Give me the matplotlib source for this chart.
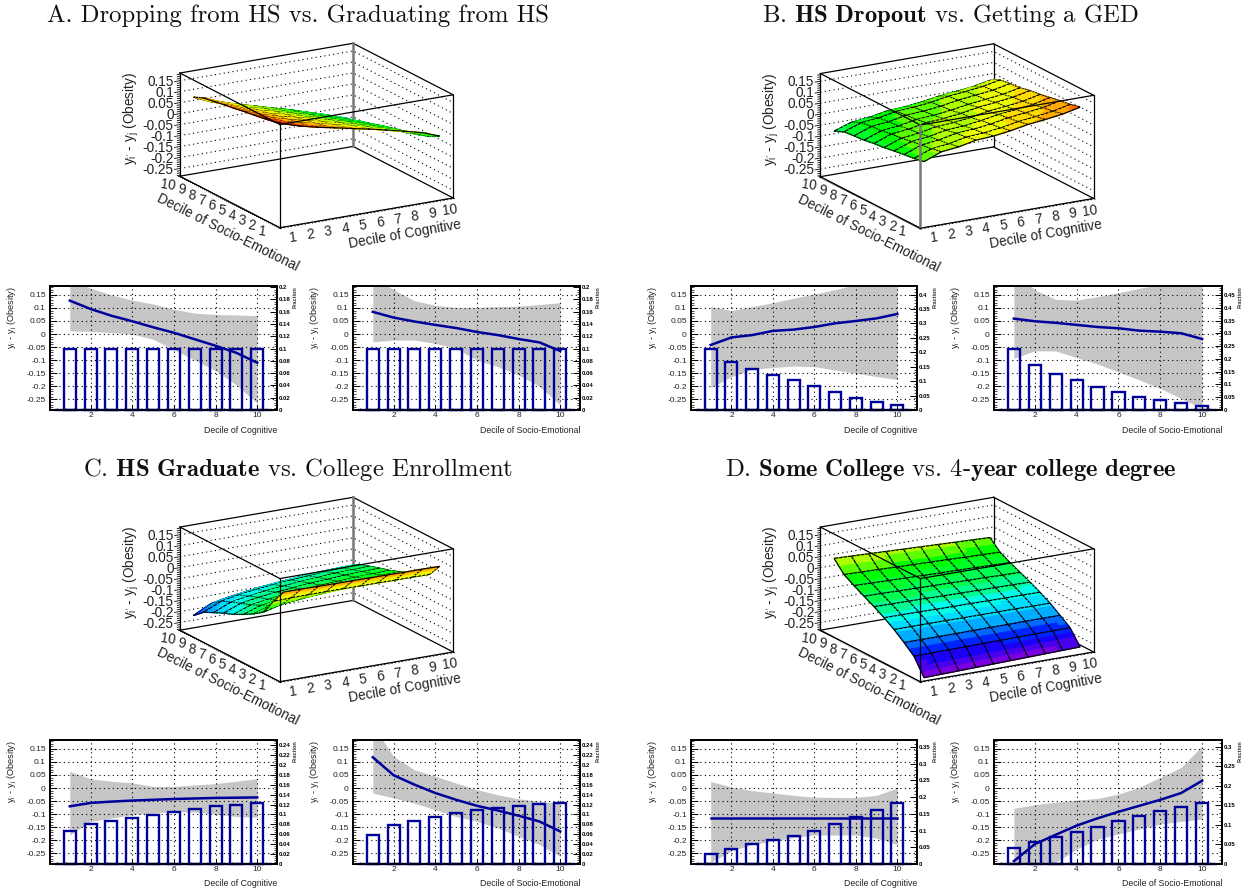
#!/usr/bin/env python3
"""Obesity treatment effects by decile: four surface panels with their marginal plots."""

import numpy as np
import matplotlib
matplotlib.use("Agg")
import matplotlib.pyplot as plt
from matplotlib.colors import LinearSegmentedColormap, BoundaryNorm
from matplotlib.ticker import MultipleLocator
from mpl_toolkits.mplot3d import proj3d
from mpl_toolkits.mplot3d.art3d import Poly3DCollection

plt.rcParams["font.family"] = "Liberation Sans"
plt.rcParams["mathtext.fontset"] = "custom"
plt.rcParams["mathtext.rm"] = "Liberation Sans"
plt.rcParams["mathtext.it"] = "Liberation Sans:italic"
plt.rcParams["mathtext.bf"] = "Liberation Sans:bold"
plt.rcParams["mathtext.default"] = "regular"

# =============================================================================
# Data
# =============================================================================

deciles = [1, 2, 3, 4, 5, 6, 7, 8, 9, 10]
z_ticks = [0.15, 0.1, 0.05, 0, -0.05, -0.1, -0.15, -0.2, -0.25]
z_labels = ["0.15", "0.1", "0.05", "0", "-0.05", "-0.1", "-0.15", "-0.2", "-0.25"]
even_ticks = [2, 4, 6, 8, 10]

titles = [
    "A. Dropping from HS vs. Graduating from HS",
    r"B. $\mathbf{HS\ Dropout}$ vs. Getting a GED",
    r"C. $\mathbf{HS\ Graduate}$ vs. College Enrollment",
    r"D. $\mathbf{Some\ College}$ vs. $\mathbf{4\text{-}year\ college\ degree}$",
]

# surfaces: rows are socio-emotional deciles 1..10, columns are cognitive deciles 1..10
surface_a = [
    [.170, .146, .127, .111, .094, .078, .060, .041, .021, -.008],
    [.157, .131, .111, .094, .076, .059, .040, .020, -.002, -.032],
    [.148, .121, .100, .083, .064, .046, .026, .005, -.017, -.049],
    [.140, .113, .091, .073, .053, .035, .014, -.007, -.030, -.063],
    [.133, .105, .082, .064, .044, .025, .003, -.018, -.042, -.076],
    [.124, .095, .072, .053, .031, .012, -.010, -.033, -.057, -.093],
    [.117, .087, .063, .043, .022, .002, -.021, -.044, -.070, -.106],
    [.108, .077, .052, .032, .009, -.011, -.035, -.059, -.085, -.122],
    [.100, .068, .043, .022, -.001, -.022, -.047, -.071, -.098, -.137],
    [.080, .046, .019, -.003, -.028, -.050, -.077, -.103, -.132, -.173],
]
surface_b = [
    [.000, .031, .040, .057, .062, .073, .088, .097, .108, .126],
    [-.009, .021, .030, .047, .052, .062, .077, .086, .097, .115],
    [-.015, .015, .024, .041, .046, .056, .071, .080, .090, .108],
    [-.022, .007, .016, .032, .037, .048, .062, .071, .081, .099],
    [-.030, -.001, .008, .024, .029, .039, .054, .062, .072, .090],
    [-.035, -.005, .003, .019, .024, .034, .048, .057, .067, .084],
    [-.043, -.014, -.006, .010, .015, .025, .038, .047, .057, .073],
    [-.047, -.018, -.010, .006, .011, .020, .034, .043, .052, .069],
    [-.052, -.024, -.016, .000, .005, .014, .028, .036, .046, .062],
    [-.073, -.046, -.038, -.023, -.018, -.009, .004, .012, .021, .037],
]
surface_c = [
    [.105, .105, .104, .103, .103, .102, .102, .101, .101, .100],
    [.040, .042, .043, .043, .043, .042, .042, .041, .041, .040],
    [-.033, -.012, -.003, .004, .009, .013, .016, .020, .021, .023],
    [-.065, -.040, -.031, -.023, -.017, -.012, -.008, -.004, -.002, .000],
    [-.091, -.064, -.053, -.044, -.038, -.032, -.028, -.024, -.022, -.019],
    [-.114, -.085, -.073, -.064, -.056, -.050, -.046, -.041, -.039, -.036],
    [-.132, -.101, -.088, -.078, -.071, -.064, -.060, -.054, -.052, -.049],
    [-.153, -.119, -.106, -.095, -.087, -.080, -.075, -.069, -.067, -.064],
    [-.175, -.139, -.124, -.113, -.104, -.097, -.092, -.086, -.083, -.080],
    [-.213, -.173, -.157, -.145, -.135, -.127, -.121, -.114, -.111, -.108],
]
surface_d = [
    [-.285, -.283, -.281, -.279, -.277, -.275, -.273, -.271, -.269, -.267],
    [-.211, -.210, -.209, -.208, -.207, -.206, -.205, -.204, -.204, -.203],
    [-.172, -.172, -.172, -.172, -.171, -.171, -.171, -.170, -.170, -.170],
    [-.136, -.136, -.136, -.136, -.137, -.137, -.137, -.137, -.138, -.138],
    [-.106, -.106, -.107, -.108, -.109, -.109, -.110, -.111, -.111, -.112],
    [-.079, -.080, -.081, -.082, -.084, -.085, -.086, -.087, -.088, -.089],
    [-.055, -.056, -.058, -.059, -.061, -.062, -.064, -.065, -.067, -.068],
    [-.030, -.032, -.034, -.036, -.038, -.040, -.041, -.043, -.045, -.047],
    [-.003, -.005, -.007, -.010, -.012, -.014, -.016, -.019, -.021, -.023],
    [.047, .044, .041, .038, .035, .032, .029, .026, .023, .020],
]

# marginal plots: curve, upper band, lower band, bars
a_cog_curve = [.128, .096, .07, .049, .026, .005, -.02, -.045, -.072, -.11]
a_cog_upper = [.22, .175, .15, .13, .115, .095, .08, .075, .073, .07]
a_cog_lower = [.012, .01, .005, 0, -.02, -.06, -.10, -.14, -.195, -.265]
a_cog_bars = [.1, .1, .1, .1, .1, .1, .1, .1, .1, .1]
a_se_curve = [.085, .063, .048, .035, .023, .008, -.004, -.019, -.032, -.065]
a_se_upper = [.22, .17, .128, .11, .102, .102, .105, .107, .113, .12]
a_se_lower = [-.03, -.023, -.023, -.036, -.055, -.10, -.125, -.157, -.20, -.272]
a_se_bars = [.1, .1, .1, .1, .1, .1, .1, .1, .1, .1]

b_cog_curve = [-.042, -.013, -.004, .012, .017, .027, .041, .05, .06, .077]
b_cog_upper = [.105, .09, .105, .12, .137, .153, .17, .19, .20, .23]
b_cog_lower = [-.205, -.163, -.135, -.128, -.123, -.125, -.138, -.15, -.163, -.174]
b_cog_bars = [.213, .165, .142, .121, .105, .084, .062, .042, .027, .016]
b_se_curve = [.059, .049, .043, .035, .027, .022, .013, .009, .003, -.019]
b_se_upper = [.25, .169, .133, .13, .143, .158, .175, .19, .22, .26]
b_se_lower = [-.093, -.064, -.065, -.09, -.115, -.145, -.176, -.208, -.247, -.285]
b_se_bars = [.241, .178, .143, .116, .092, .070, .051, .038, .026, .017]

c_cog_curve = [-.07, -.057, -.052, -.048, -.045, -.042, -.04, -.038, -.037, -.036]
c_cog_upper = [.064, .035, .026, .02, .006, .006, .012, .017, .026, .036]
c_cog_lower = [-.18, -.128, -.115, -.102, -.096, -.09, -.092, -.10, -.109, -.112]
c_cog_bars = [.067, .081, .087, .093, .098, .104, .110, .116, .120, .124]
c_se_curve = [.118, .049, .013, -.019, -.045, -.068, -.086, -.106, -.128, -.166]
c_se_upper = [.24, .121, .07, .045, .019, -.006, -.026, -.041, -.051, -.058]
c_se_lower = [-.019, -.038, -.058, -.083, -.109, -.128, -.153, -.185, -.217, -.262]
c_se_bars = [.059, .078, .087, .095, .102, .108, .113, .117, .121, .124]

d_cog_curve = [-.113, -.113, -.113, -.113, -.113, -.113, -.113, -.113, -.113, -.113]
d_cog_upper = [.025, .004, -.01, -.019, -.028, -.035, -.036, -.036, -.028, 0]
d_cog_lower = [-.285, -.24, -.217, -.202, -.19, -.18, -.18, -.18, -.192, -.217]
d_cog_bars = [.030, .046, .059, .071, .085, .100, .121, .142, .162, .184]
d_se_curve = [-.28, -.215, -.179, -.144, -.116, -.091, -.068, -.045, -.019, .028]
d_se_upper = [-.078, -.064, -.054, -.046, -.04, -.023, .003, .041, .079, .162]
d_se_lower = [-.29, -.29, -.285, -.234, -.196, -.176, -.157, -.138, -.128, -.119]
d_se_bars = [.040, .056, .068, .081, .094, .109, .123, .136, .146, .157]

fraction_a = [0, .02, .04, .06, .08, .1, .12, .14, .16, .18, .2]
fraction_b_cog = [0, .05, .1, .15, .2, .25, .3, .35, .4]
fraction_b_se = [0, .05, .1, .15, .2, .25, .3, .35, .4, .45]
fraction_c = [0, .02, .04, .06, .08, .1, .12, .14, .16, .18, .2, .22, .24]
fraction_d_cog = [0, .05, .1, .15, .2, .25, .3, .35]
fraction_d_se = [0, .05, .1, .15, .2, .25, .3]

# =============================================================================
# Layout and style
# =============================================================================

W, H = 1249, 894
ROW_SHIFT = 454
BLUE = "#00009a"
INK = "#222222"
XLIM3 = (0.5, 10.5)
ZLIM3 = (-0.285, 0.185)
SUB = 4

palette = LinearSegmentedColormap.from_list(
    "root", [(0.0, "#7a00e0"), (0.13, "#0000ff"), (0.25, "#00a0ff"), (0.35, "#00ffff"),
             (0.45, "#00ff60"), (0.58, "#00ff00"), (0.67, "#a0ff00"), (0.75, "#ffff00"),
             (0.85, "#ffa000"), (1.0, "#ff0000")])
levels = np.linspace(ZLIM3[0], ZLIM3[1], 21)
norm = BoundaryNorm(levels, palette.N)

fig = plt.figure(figsize=(W / 100, H / 100), dpi=100)


def draw_surface(ax, table):
    """Colour bands inside each cell, black cell borders, all depth sorted together."""
    fine = np.linspace(1, 10, 9 * SUB + 1)
    rows = np.array([np.interp(fine, deciles, r) for r in table])
    Z = np.array([np.interp(fine, deciles, c) for c in rows.T]).T
    X, Y = np.meshgrid(fine, fine)
    polys, colors, edges = [], [], []
    for i in range(len(fine) - 1):
        for j in range(len(fine) - 1):
            polys.append([(X[i, j], Y[i, j], Z[i, j]), (X[i, j + 1], Y[i, j + 1], Z[i, j + 1]),
                          (X[i + 1, j + 1], Y[i + 1, j + 1], Z[i + 1, j + 1]),
                          (X[i + 1, j], Y[i + 1, j], Z[i + 1, j])])
            c = palette(norm(np.mean([Z[i, j], Z[i, j + 1], Z[i + 1, j + 1], Z[i + 1, j]])))
            colors.append(c)
            edges.append(c)
    # cell borders are flat quads, nudged along the view line so they sort after their cells
    lift = np.array([-0.07, -0.124, 0.0039])
    for i in range(0, len(fine), SUB):
        for j in range(len(fine) - 1):
            for p, q in [((X[i, j], Y[i, j], Z[i, j]), (X[i, j + 1], Y[i, j + 1], Z[i, j + 1])),
                         ((X[j, i], Y[j, i], Z[j, i]), (X[j + 1, i], Y[j + 1, i], Z[j + 1, i]))]:
                p, q = np.array(p) + lift, np.array(q) + lift
                polys.append([p, q, q, p])
                colors.append((0, 0, 0, 1))
                edges.append((0, 0, 0, 1))
    ax.add_collection3d(Poly3DCollection(polys, facecolors=colors, edgecolors=edges,
                                         linewidths=0.9, zorder=2), autolim=False)


def draw_box(ax, thick):
    x0, x1 = XLIM3
    y0, y1 = XLIM3
    z0, z1 = ZLIM3
    for zt in z_ticks:
        ax.plot([x0, x1, x1], [y1, y1, y0], [zt, zt, zt], color="k", lw=0.8,
                ls=(0, (1, 3)), zorder=1)
    behind = [((x0, y1, z0), (x1, y1, z0)), ((x1, y1, z0), (x1, y0, z0)),
              ((x0, y1, z1), (x1, y1, z1)), ((x1, y1, z1), (x1, y0, z1))]
    front = [((x0, y0, z0), (x1, y0, z0)), ((x0, y0, z0), (x0, y1, z0)),
             ((x0, y0, z1), (x1, y0, z1)), ((x0, y0, z1), (x0, y1, z1)),
             ((x0, y1, z0), (x0, y1, z1)), ((x1, y0, z0), (x1, y0, z1))]
    for seg in behind + front:
        zo = 1 if seg in behind else 4
        ax.plot(*zip(*seg), color="k", lw=0.9, zorder=zo)
    back_style = ("#777777", 1.8) if thick == "back" else ("k", 0.9)
    front_style = ("#777777", 1.8) if thick == "front" else ("k", 0.9)
    ax.plot([x1, x1], [y1, y1], [z0, z1], color=back_style[0], lw=back_style[1], zorder=1)
    ax.plot([x0, x0], [y0, y0], [z0, z1], color=front_style[0], lw=front_style[1], zorder=4)


def label3d(ax, x, y, z, s, **kw):
    # plain 2D text at the projected spot, Text3D ignores rotation
    X, Y, _ = proj3d.proj_transform(x, y, z, ax.get_proj())
    ax.text2D(X, Y, s, transform=ax.transData, color=INK, fontsize=9.8, **kw)


def draw_axes_3d(ax):
    x0, x1 = XLIM3
    z0, z1 = ZLIM3
    # tick marks on the three labelled edges
    for t in np.arange(x0, x1 + 0.01, 0.2):
        major = abs(t - round(t)) < 0.01
        n = 0.28 if major else 0.14
        ax.plot([t, t], [x0, x0 - n], [z0, z0], color="k", lw=0.6, zorder=4)
        ax.plot([x0, x0 - n * 0.6], [t, t], [z0, z0], color="k", lw=0.6, zorder=4)
    for t in np.arange(-0.28, 0.181, 0.01):
        n = 0.3 if abs(t * 20 - round(t * 20)) < 0.01 else 0.15
        ax.plot([x0, x0 - n], [x1, x1], [t, t], color="k", lw=0.6, zorder=4)
    for d in deciles:
        label3d(ax, d, x0 - 0.5, z0 - 0.0385, str(d), ha="center", va="center", rotation=8)
        label3d(ax, x0 - 0.48, d, z0 - 0.021, str(d), ha="right", va="center", rotation=-8)
    for zt, lab in zip(z_ticks, z_labels):
        label3d(ax, x0 - 0.35, x1, zt, lab, ha="right", va="center")
    label3d(ax, x0 - 2.8, x1, 0.014, "y$_{i'}$ - y$_{j}$ (Obesity)", rotation=90,
            ha="center", va="center")
    label3d(ax, 6.74, x0 - 1.7, z0 - 0.073, "Decile of Cognitive", rotation=10,
            ha="center", va="center", rotation_mode="anchor")
    label3d(ax, x0 - 2.0, 2.24, z0 - 0.037, "Decile of Socio-Emotional", rotation=-26.6,
            ha="center", va="center", rotation_mode="anchor")


def panel_3d(cx, cy, table, thick):
    S = 294.0
    pos = [(cx - 0.5135 * S) / W, 1 - (cy + 0.5135 * S) / H, S / W, S / H]
    ax = fig.add_axes(pos, projection="3d", computed_zorder=False, proj_type="ortho")
    ax.view_init(elev=17.3, azim=-120)
    ax.set_box_aspect((200, 200, 108))
    ax.set_axis_off()
    ax.patch.set_visible(False)
    ax.set_xlim(*XLIM3)
    ax.set_ylim(*XLIM3)
    ax.set_zlim(*ZLIM3)
    draw_surface(ax, table)
    draw_box(ax, thick)
    ax.set_xlim(*XLIM3)
    ax.set_ylim(*XLIM3)
    ax.set_zlim(*ZLIM3)
    draw_axes_3d(ax)
    ax.set_xlim(*XLIM3)
    ax.set_ylim(*XLIM3)
    ax.set_zlim(*ZLIM3)


def panel_small(left, right, top, bottom, curve, upper, lower, bars, frac_ticks, xlabel):
    ax = fig.add_axes([left / W, 1 - bottom / H, (right - left) / W, (bottom - top) / H])
    ax.fill_between(deciles, lower, upper, color="#c6c6c6", lw=0, zorder=1)
    ax.plot(deciles, curve, color=BLUE, lw=1.8, zorder=3)
    ax.set_xlim(0.05, 10.95)
    ax.set_ylim(-0.291, 0.184)
    ax.set_xticks(even_ticks)
    ax.xaxis.set_minor_locator(MultipleLocator(0.4))
    ax.set_yticks(z_ticks, labels=z_labels)
    ax.yaxis.set_minor_locator(MultipleLocator(0.01))
    ax.grid(True, which="major", color="k", lw=0.8, ls=(0, (1, 3)), zorder=2)
    ax.set_axisbelow(False)
    ax.tick_params(axis="y", which="major", direction="in", length=5, width=0.7,
                   labelsize=6, pad=3, labelcolor=INK)
    ax.tick_params(axis="y", which="minor", direction="in", length=2.5, width=0.5)
    ax.tick_params(axis="x", which="major", direction="in", length=3.5, width=0.7,
                   labelsize=6, pad=1.5, labelcolor=INK)
    ax.tick_params(axis="x", which="minor", direction="in", length=1.8, width=0.5)
    for sp in ax.spines.values():
        sp.set_linewidth(1.3)
    ax.text(-38.0 / (right - left), 1.0, "y$_{i'}$ - y$_{j}$ (Obesity)", rotation=90,
            transform=ax.transAxes, ha="center", va="top", fontsize=6.6, color=INK)
    ax.text(1.0, -20.0 / (bottom - top), xlabel, transform=ax.transAxes, ha="right",
            va="center", fontsize=6.3, color=INK)

    # histogram on its own right hand scale, peak level with -0.05 on the left scale
    axr = ax.twinx()
    axr.bar(deciles, bars, width=0.58, facecolor="none", edgecolor=BLUE, lw=1.7, clip_on=False)
    axr.plot([0.32, 10.64], [0, 0], color=BLUE, lw=1.7, clip_on=False)
    axr.set_ylim(0, max(bars) / 0.4957)
    axr.set_yticks(frac_ticks, labels=[f"{t:g}" for t in frac_ticks])
    axr.yaxis.set_minor_locator(MultipleLocator((frac_ticks[1] - frac_ticks[0]) / 5))
    axr.tick_params(axis="y", which="major", direction="in", length=5, width=0.7,
                    labelsize=4.3, pad=1.5)
    axr.tick_params(axis="y", which="minor", direction="in", length=2.5, width=0.5)
    for lab in axr.get_yticklabels():
        lab.set_fontweight("bold")
    for sp in axr.spines.values():
        sp.set_linewidth(1.3)
    axr.text(1 + 18.0 / (right - left), 1.0, "Fraction", rotation=90, transform=axr.transAxes,
             ha="center", va="top", fontsize=4, fontweight="bold", color="#333333")


# =============================================================================
# Draw
# =============================================================================

panels_3d = [(316.5, 135.5, surface_a, "back"), (957.0, 136.0, surface_b, "front"),
             (316.5, 589.5, surface_c, "back"), (957.0, 589.5, surface_d, "none")]
for cx, cy, table, thick in panels_3d:
    panel_3d(cx, cy, table, thick)

panels_small = [
    (50, 277, 0, a_cog_curve, a_cog_upper, a_cog_lower, a_cog_bars, fraction_a, "Decile of Cognitive"),
    (353, 580, 0, a_se_curve, a_se_upper, a_se_lower, a_se_bars, fraction_a, "Decile of Socio-Emotional"),
    (691, 917, 0, b_cog_curve, b_cog_upper, b_cog_lower, b_cog_bars, fraction_b_cog, "Decile of Cognitive"),
    (994, 1222, 0, b_se_curve, b_se_upper, b_se_lower, b_se_bars, fraction_b_se, "Decile of Socio-Emotional"),
    (50, 277, 1, c_cog_curve, c_cog_upper, c_cog_lower, c_cog_bars, fraction_c, "Decile of Cognitive"),
    (353, 580, 1, c_se_curve, c_se_upper, c_se_lower, c_se_bars, fraction_c, "Decile of Socio-Emotional"),
    (691, 917, 1, d_cog_curve, d_cog_upper, d_cog_lower, d_cog_bars, fraction_d_cog, "Decile of Cognitive"),
    (994, 1222, 1, d_se_curve, d_se_upper, d_se_lower, d_se_bars, fraction_d_se, "Decile of Socio-Emotional"),
]
for left, right, row, curve, upper, lower, bars, frac, xlabel in panels_small:
    shift = ROW_SHIFT * row
    panel_small(left, right, 286 + shift, 410 + shift, curve, upper, lower, bars, frac, xlabel)

title_pos = [(298, 22), (951, 22), (298, 476), (951, 476)]
for (tx, ty), title in zip(title_pos, titles):
    fig.text(tx / W, 1 - ty / H, title, ha="center", va="baseline", fontsize=17.8,
             family="cmr10", math_fontfamily="cm", color="#111111")

fig.savefig("out.png", dpi=100)
